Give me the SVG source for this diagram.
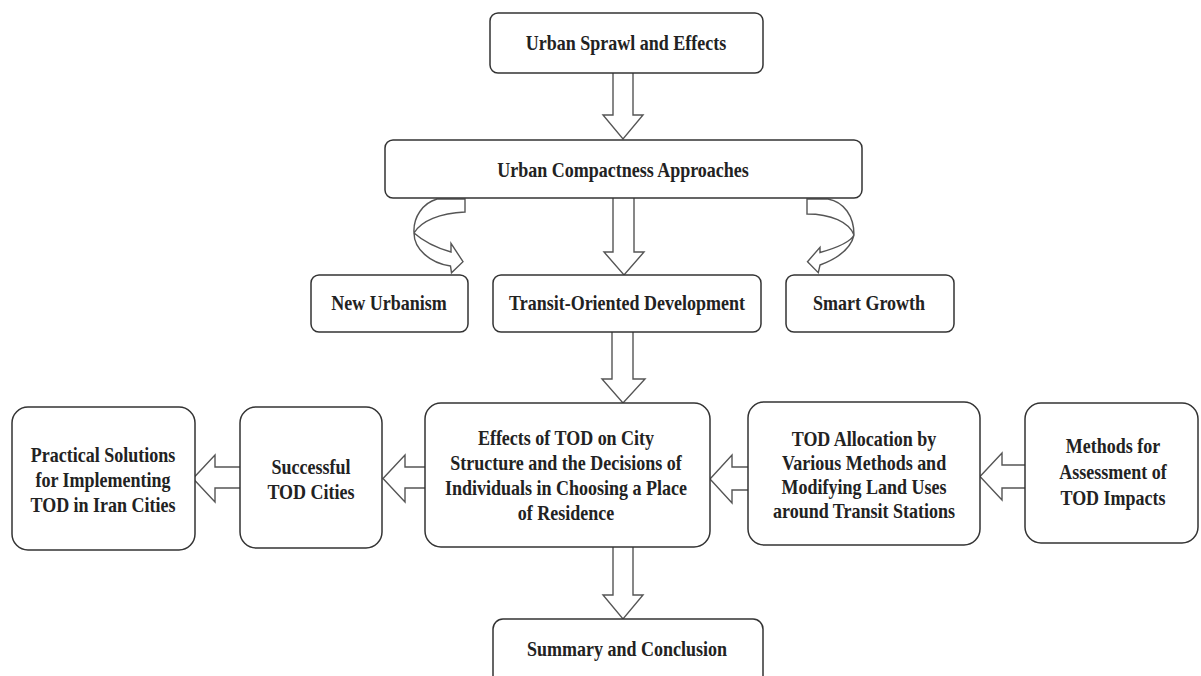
<svg xmlns="http://www.w3.org/2000/svg" width="1201" height="676" viewBox="0 0 1201 676">
<style>
.box{fill:#fff;stroke:#333;stroke-width:1.5}
.t{font-family:"Liberation Serif","Times New Roman",serif;font-weight:bold;font-size:18px;fill:#222;text-anchor:middle}
.ar{fill:#fff;stroke:#555;stroke-width:1.4;stroke-linejoin:miter}
</style>
<rect width="1201" height="676" fill="#fff"/>
<g id="connectors">
<path class="ar" d="M613,73 V115 H603 L623,139 L643,115 H633 V73"/>
<path class="ar" d="M613,198 V252 H604 L624,275 L644,252 H634 V198"/>
<path class="ar" d="M612,332 V379 H602 L623,403 L645,379 H633 V332"/>
<path class="ar" d="M613,547 V595 H603 L623,619 L643,595 H633 V547"/>
<path class="ar" d="M1025,465 H1002 V453 L980,476.5 L1002,500 V488 H1025"/>
<path class="ar" d="M748,467 H732 V455 L710,479 L732,503 V490 H748"/>
<path class="ar" d="M425,467 H405 V455 L383,478.5 L405,502 V488 H425"/>
<path class="ar" d="M240,467 H215 V455 L193,478.5 L215,502 V488 H240"/>
<path class="ar" d="M437,199 L465,199 L465,212 C440,213 421,221 414,233 C423,241 437,248 451,252 L451,243.3 L463,261.7 L451.5,272.7 L450.5,266 C430,263 414,249 414,233 C413,217 423,203 437,199 Z"/>
<path class="ar" d="M807,199 L828,199 C844,202 854,216 854,235 C851,248 839,258 820,265 L818.3,272.7 L807.5,261.7 L820,247.3 L820,252.5 C836,248 850,243 854,235 C849,222 831,214 807,214 Z"/>
</g>
<g id="n1"><rect class="box" x="490" y="13" width="273" height="60" rx="8"/><text class="t" transform="matrix(1 0 0 1.18 626 50)">Urban Sprawl and Effects</text></g>
<g id="n2"><rect class="box" x="385" y="140" width="477" height="58" rx="8"/><text class="t" transform="matrix(1 0 0 1.18 623 177)">Urban Compactness Approaches</text></g>
<g id="n3"><rect class="box" x="311" y="275" width="157" height="57" rx="8"/><text class="t" transform="matrix(1 0 0 1.18 389 310)">New Urbanism</text></g>
<g id="n4"><rect class="box" x="493" y="275" width="268" height="57" rx="8"/><text class="t" transform="matrix(1 0 0 1.18 627 310)">Transit-Oriented Development</text></g>
<g id="n5"><rect class="box" x="786" y="275" width="168" height="57" rx="8"/><text class="t" transform="matrix(1 0 0 1.18 869 310)">Smart Growth</text></g>
<g id="n6"><rect class="box" x="12" y="407" width="183" height="143" rx="16"/><text class="t" transform="matrix(1 0 0 1.18 103 462)">Practical Solutions</text><text class="t" transform="matrix(1 0 0 1.18 103 487)">for Implementing</text><text class="t" transform="matrix(1 0 0 1.18 103 512)">TOD in Iran Cities</text></g>
<g id="n7"><rect class="box" x="240" y="407" width="142" height="141" rx="16"/><text class="t" transform="matrix(1 0 0 1.18 311 474)">Successful</text><text class="t" transform="matrix(1 0 0 1.18 311 499)">TOD Cities</text></g>
<g id="n8"><rect class="box" x="425" y="403" width="285" height="144" rx="16"/><text class="t" transform="matrix(1 0 0 1.18 566 445)">Effects of TOD on City</text><text class="t" transform="matrix(1 0 0 1.18 566 470)">Structure and the Decisions of</text><text class="t" transform="matrix(1 0 0 1.18 566 495)">Individuals in Choosing a Place</text><text class="t" transform="matrix(1 0 0 1.18 566 520)">of Residence</text></g>
<g id="n9"><rect class="box" x="748" y="402" width="232" height="143" rx="16"/><text class="t" transform="matrix(1 0 0 1.18 864 446)">TOD Allocation by</text><text class="t" transform="matrix(1 0 0 1.18 864 470)">Various Methods and</text><text class="t" transform="matrix(1 0 0 1.18 864 494)">Modifying Land Uses</text><text class="t" transform="matrix(1 0 0 1.18 864 518)">around Transit Stations</text></g>
<g id="n10"><rect class="box" x="1025" y="403" width="173" height="140" rx="16"/><text class="t" transform="matrix(1 0 0 1.18 1113 453)">Methods for</text><text class="t" transform="matrix(1 0 0 1.18 1113 479)">Assessment of</text><text class="t" transform="matrix(1 0 0 1.18 1113 505)">TOD Impacts</text></g>
<g id="n11"><rect class="box" x="493" y="619" width="270" height="75" rx="10"/><text class="t" transform="matrix(1 0 0 1.18 627 656)">Summary and Conclusion</text></g>
</svg>
